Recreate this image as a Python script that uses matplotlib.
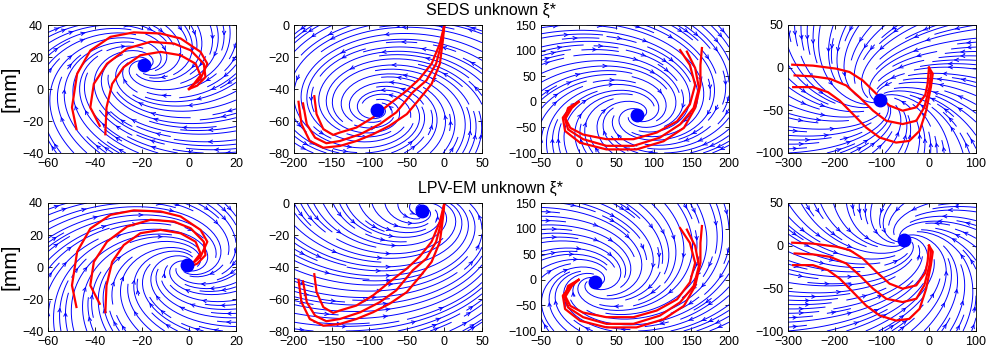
import numpy as np
import matplotlib.pyplot as plt

plt.rcParams['font.family'] = ['Liberation Sans', 'DejaVu Sans']

# axis limits per dataset (column)
x_limits = [(-60, 20), (-200, 50), (-50, 200), (-300, 100)]
y_limits = [(-40, 40), (-80, 0), (-100, 150), (-100, 50)]
x_ticks = [[-60, -40, -20, 0, 20], [-200, -150, -100, -50, 0, 50],
           [-50, 0, 50, 100, 150, 200], [-300, -200, -100, 0, 100]]
y_ticks = [[-40, -20, 0, 20, 40], [-80, -60, -40, -20, 0],
           [-100, -50, 0, 50, 100, 150], [-100, -50, 0, 50]]

row_titles = ['SEDS unknown ξ*', 'LPV-EM unknown ξ*']

# estimated attractors (row 0: SEDS, row 1: LPV-EM)
attractors = [[(-19, 15), (-90, -53), (78, -25), (-105, -38)],
              [(-1, 1), (-30, -5), (22, -5), (-53, 7)]]
# rotation (+ clockwise) and contraction of the learned field
rotation = [[1.1, -1.4, 1.1, -0.8],
            [1.2, -1.1, 1.1, -0.9]]
contraction = [[0.6, 0.35, 0.5, 1.1],
               [0.7, 0.5, 0.6, 1.0]]

# demonstrations, same in both rows
demo1 = [
    [(-47.9, -25), (-49.8, -11.5), (-47.6, 9.5), (-42, 24), (-33.4, 32.6), (-23.5, 35.4),
     (-12.1, 34.7), (-3.6, 31.6), (4.9, 23.2), (7.8, 15.8), (4.9, 6.4), (0.7, 1.1), (0, 0)],
    [(-38, -23), (-42, -11.5), (-40.5, 3.2), (-34.9, 15.8), (-26.3, 25.3), (-16.4, 29.5),
     (-6.4, 28.4), (0.7, 24.2), (6.3, 15.8), (7, 7.4), (3.5, 2.1), (0, 0)],
    [(-35.6, -28.3), (-35.1, -11.5), (-32.7, 3.2), (-27.8, 13.7), (-20.7, 21.1), (-12.1, 23.2),
     (-3.6, 21.1), (2.8, 15.8), (4.9, 8.5), (2.1, 3.2), (0, 0)],
]
demo2 = [
    [(-194, -48), (-190, -62), (-179, -72.5), (-161, -76.7), (-139, -75.6), (-117, -72.5),
     (-95, -68.3), (-73, -63), (-50, -55.7), (-33, -46.2), (-17, -36.8), (-6, -24.2), (-2, -9.5), (0, 0)],
    [(-188, -49), (-183, -62), (-172, -70.4), (-157, -73.9), (-139, -72.5), (-112, -68.3),
     (-86, -62), (-64, -54.6), (-42, -42), (-24, -34.7), (-11, -24.2), (-4, -11.6), (0, 0)],
    [(-173, -44.5), (-170, -55.7), (-161, -65.1), (-148, -68.7), (-139, -67.2), (-117, -64.1),
     (-95, -57.8), (-73, -49.4), (-50, -41), (-33, -33.6), (-17, -24.2), (-6, -11.6), (0, 0)],
]
demo3 = [
    [(135, 101), (148, 72), (155, 33), (148, -5), (131, -38), (104, -60), (73, -73), (37, -73),
     (6, -64), (-11, -51), (-18, -31), (-14, -12), (0, 0)],
    [(144, 98), (155, 66), (160, 27), (153, -12), (135, -44), (108, -70), (73, -86), (37, -86),
     (6, -73), (-14, -54), (-18, -34), (-9, -12), (0, 0)],
    [(164, 105), (162, 72), (162, 33), (155, -12), (140, -51), (113, -77), (77, -93), (37, -93),
     (2, -80), (-18, -57), (-21, -31), (-11, -12), (0, 0)],
]
demo4 = [
    [(-291, 3.5), (-247, 2.4), (-197, -1.2), (-169, -5.1), (-141, -15), (-112, -30.7),
     (-84, -44.5), (-56, -50.4), (-27, -46.5), (-8, -32), (-3, -19), (0, 0)],
    [(-286, -9.1), (-247, -10.2), (-211, -13), (-176, -20.9), (-148, -34.6), (-119, -50.4),
     (-91, -62.2), (-56, -66.1), (-27, -62.2), (-10, -46.5), (1, -22.8), (4, -7.1), (0, 0)],
    [(-289, -22.8), (-247, -22.8), (-215, -28.7), (-190, -38.6), (-162, -54.3), (-134, -70.1),
     (-105, -81.9), (-70, -87.8), (-42, -85.8), (-20, -74), (-6, -50.4), (4, -22.8), (8, -7.1), (0, 0)],
]
demos = [demo1, demo2, demo3, demo4]

W, H = 987, 351
fig = plt.figure(figsize=(W / 100, H / 100), dpi=100)
col_left = [48, 294, 541, 788]
row_top = [25, 203]
ax_w, ax_h = 188, 128

for r in range(2):
    for c in range(4):
        ax = fig.add_axes([col_left[c] / W, 1 - (row_top[r] + ax_h) / H, ax_w / W, ax_h / H])
        x0, x1 = x_limits[c]
        y0, y1 = y_limits[c]
        sx, sy = x1 - x0, y1 - y0
        gx, gy = np.meshgrid(np.linspace(x0, x1, 80), np.linspace(y0, y1, 80))
        xs, ys = attractors[r][c]
        # spiral field around the attractor, in axis-normalised units
        u = (gx - xs) / sx
        v = (gy - ys) / sy
        w = rotation[r][c]
        a = contraction[r][c]
        dx = (-a * u + w * v) * sx
        dy = (-a * v - w * u) * sy
        ax.streamplot(gx, gy, dx, dy, color='blue', linewidth=0.7, density=1.0,
                      arrowsize=0.6, arrowstyle='->')
        for tr in demos[c]:
            pts = np.array(tr)
            ax.plot(pts[:, 0], pts[:, 1], color='red', lw=1.6)
        ax.plot(xs, ys, 'o', color='blue', markersize=9)
        ax.set_xlim(x0, x1)
        ax.set_ylim(y0, y1)
        ax.set_xticks(x_ticks[c])
        ax.set_yticks(y_ticks[c])
        ax.tick_params(direction='in', top=True, right=True, labelsize=9, length=3, width=0.6)
        for s in ax.spines.values():
            s.set_linewidth(0.6)
        if c == 0:
            ax.set_ylabel('[mm]', fontsize=15, labelpad=2)

for r in range(2):
    fig.text(0.497, 1 - (10 + 178 * r) / H, row_titles[r], ha='center', va='center', fontsize=11.5)

fig.savefig('out.png', dpi=100)
